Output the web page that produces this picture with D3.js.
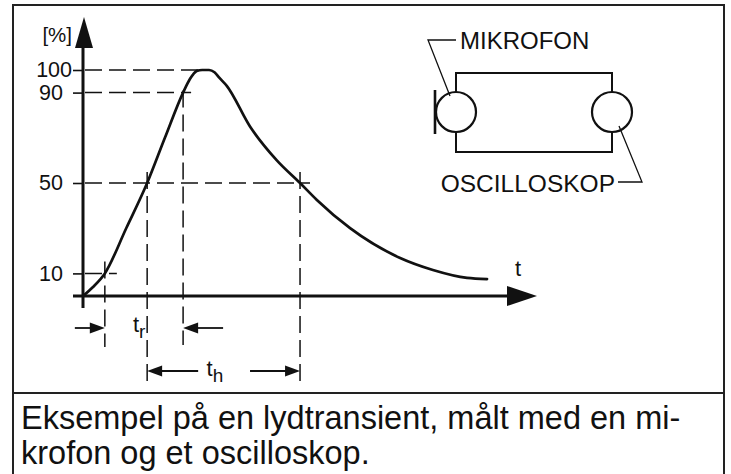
<!DOCTYPE html>
<html>
<head>
<meta charset="utf-8">
<script src="https://cdn.jsdelivr.net/npm/d3@7"></script>
<style>
  html, body { margin: 0; padding: 0; background: #fff; }
  svg { display: block; font-family: "Liberation Sans", Arial, Helvetica, sans-serif; }
</style>
</head>
<body>
<svg id="chart" width="731" height="474"></svg>
<script>
// Sound transient envelope: time (arbitrary units) and level in % of peak
const timeValues  = [0, 2.2, 4.8, 9.5, 14.1, 18.0, 22.0, 23.5, 24.3, 25.0, 26.2, 27.7, 28.9, 30.0, 31.6, 36.7, 42.6, 47.7, 51.4, 58.7, 69.7, 76.9, 84.4, 88.8];
const levelValues = [0, 4, 10, 30, 50, 70, 90, 96, 98.3, 99.6, 100, 100, 99, 96.5, 93, 75, 60, 50, 42.5, 30, 16.8, 11.5, 8, 7.5];

// Level axis ticks
const levelTicks = [10, 50, 90, 100];
const tickLabels = ["10", "50", "90", "100"];

// Times where the envelope crosses the reference levels
const crossLevels = [10, 50, 90, 100, 50];
const crossTimes  = [4.8, 14.1, 22.0, 26.2, 47.7];
const [tRise10, tRise50, tRise90, tPeak, tDecay50] = crossTimes;

const caption = ["Eksempel på en lydtransient, målt med en mi-", "krofon og et oscilloskop."];

const ink = "#111";
const svg = d3.select("#chart");

const x = d3.scaleLinear().domain([0, 100]).range([83, 538]);
const y = d3.scaleLinear().domain([0, 100]).range([296, 70]);

// Outer frame and caption divider
svg.append("rect")
  .attr("x", 13).attr("y", 5).attr("width", 711).attr("height", 490)
  .attr("fill", "none").attr("stroke", "#222").attr("stroke-width", 2);
svg.append("line")
  .attr("x1", 13).attr("x2", 724).attr("y1", 393).attr("y2", 393)
  .attr("stroke", "#222").attr("stroke-width", 2);

const plot = svg.append("g");

// Filled arrow head with its tip at (tx, ty)
function arrowHead(g, tx, ty, dir, len, half) {
  let pts;
  if (dir === "right") pts = [[tx, ty], [tx - len, ty - half], [tx - len, ty + half]];
  if (dir === "left")  pts = [[tx, ty], [tx + len, ty - half], [tx + len, ty + half]];
  if (dir === "up")    pts = [[tx, ty], [tx - half, ty + len], [tx + half, ty + len]];
  g.append("path").attr("d", "M" + pts.join("L") + "Z").attr("fill", ink);
}

// Dashed guide lines
const guides = plot.append("g").attr("stroke", ink).attr("stroke-width", 1.5)
  .attr("stroke-dasharray", "17,7").attr("fill", "none");

const hGuides = [
  { level: 100, t: tPeak,    ext: -2 },
  { level: 90,  t: tRise90,  ext: 8 },
  { level: 50,  t: tDecay50, ext: 10 },
  { level: 10,  t: tRise10,  ext: 12 }
];
guides.selectAll("line.h").data(hGuides).join("line").attr("class", "h")
  .attr("x1", x(0) + 2).attr("x2", d => x(d.t) + d.ext)
  .attr("y1", d => y(d.level)).attr("y2", d => y(d.level));

const vGuides = [
  { t: tRise10,  level: 10, above: 12, bottom: 347 },
  { t: tRise50,  level: 50, above: 11, bottom: 386 },
  { t: tRise90,  level: 90, above: 2,  bottom: 345 },
  { t: tDecay50, level: 50, above: 11, bottom: 382 }
];
guides.selectAll("line.v").data(vGuides).join("line").attr("class", "v")
  .attr("x1", d => x(d.t)).attr("x2", d => x(d.t))
  .attr("y1", d => y(d.level) - d.above).attr("y2", d => d.bottom);

// Level axis ticks and labels
const yAxis = d3.axisLeft(y)
  .tickValues(levelTicks)
  .tickFormat(d => tickLabels[levelTicks.indexOf(d)])
  .tickSize(10).tickPadding(10);
const gy = plot.append("g").attr("transform", `translate(${x(0)},0)`).call(yAxis);
gy.select(".domain").remove();
gy.selectAll(".tick line").attr("stroke", ink).attr("stroke-width", 1.6);
gy.selectAll(".tick text").attr("fill", ink).attr("font-size", 21.5)
  .attr("font-family", "'Liberation Sans', Arial, sans-serif");
gy.selectAll(".tick text").filter(d => d === 100).attr("x", -11);

// Axes with arrows
plot.append("line").attr("x1", x(0)).attr("x2", x(0)).attr("y1", y(0) + 12).attr("y2", 40)
  .attr("stroke", ink).attr("stroke-width", 3);
arrowHead(plot, x(0) + 1, 17, "up", 31, 9);
plot.append("line").attr("x1", x(0) - 10).attr("x2", 512).attr("y1", y(0)).attr("y2", y(0))
  .attr("stroke", ink).attr("stroke-width", 3);
arrowHead(plot, 537, y(0), "right", 30, 10);

plot.append("text").attr("x", 72).attr("y", 42).attr("text-anchor", "end")
  .attr("font-size", 20.5).attr("fill", ink).text("[%]");
plot.append("text").attr("x", 515).attr("y", 276)
  .attr("font-size", 22).attr("fill", ink).text("t");

// Envelope curve
const pts = timeValues.map((t, i) => [t, levelValues[i]]);
plot.append("path")
  .attr("d", d3.line().x(d => x(d[0])).y(d => y(d[1])).curve(d3.curveMonotoneX)(pts))
  .attr("fill", "none").attr("stroke", ink).attr("stroke-width", 2.7)
  .attr("stroke-linejoin", "round").attr("stroke-linecap", "round");

// Rise time dimension (t_r)
const trRow = 328;
const dims = plot.append("g").attr("stroke", ink).attr("stroke-width", 1.8);
dims.append("line").attr("x1", x(tRise10) - 30).attr("x2", x(tRise10) - 10).attr("y1", trRow).attr("y2", trRow);
arrowHead(plot, x(tRise10), trRow, "right", 15, 5.5);
dims.append("line").attr("x1", x(tRise90) + 10).attr("x2", x(tRise90) + 40).attr("y1", trRow).attr("y2", trRow);
arrowHead(plot, x(tRise90), trRow, "left", 15, 5.5);

const trLabel = plot.append("text").attr("x", (x(tRise10) + x(tRise90)) / 2 - 11).attr("y", 332)
  .attr("font-size", 22).attr("fill", ink);
trLabel.append("tspan").text("t");
trLabel.append("tspan").attr("font-size", 19).attr("dy", 6).text("r");

// Half-level duration dimension (t_h)
const thRow = 371;
dims.append("line").attr("x1", x(tRise50) + 10).attr("x2", x(tRise50) + 51).attr("y1", thRow).attr("y2", thRow);
arrowHead(plot, x(tRise50), thRow, "left", 15, 5.5);
dims.append("line").attr("x1", x(tDecay50) - 50).attr("x2", x(tDecay50) - 10).attr("y1", thRow).attr("y2", thRow);
arrowHead(plot, x(tDecay50), thRow, "right", 15, 5.5);

const thLabel = plot.append("text").attr("x", (x(tRise50) + x(tDecay50)) / 2 - 17).attr("y", 376)
  .attr("font-size", 22).attr("fill", ink);
thLabel.append("tspan").text("t");
thLabel.append("tspan").attr("font-size", 19).attr("dy", 6).text("h");

// Measurement setup: microphone wired to an oscilloscope
const setup = svg.append("g").attr("stroke", ink).attr("fill", "none");
setup.append("path").attr("d", "M456,92V73H612V92M456,132V152H612V132").attr("stroke-width", 2);
setup.append("circle").attr("cx", 456).attr("cy", 112).attr("r", 20).attr("stroke-width", 2.2);
setup.append("circle").attr("cx", 612).attr("cy", 112).attr("r", 20).attr("stroke-width", 2.2);
setup.append("line").attr("x1", 435).attr("x2", 435).attr("y1", 90).attr("y2", 134).attr("stroke-width", 2.6);
setup.append("path").attr("d", "M456,40H428L450,96").attr("stroke-width", 1.3);
setup.append("path").attr("d", "M619,126L642,182H618").attr("stroke-width", 1.3);

svg.append("text").attr("x", 460).attr("y", 49).attr("font-size", 24).attr("fill", ink).text("MIKROFON");
svg.append("text").attr("x", 615).attr("y", 192).attr("text-anchor", "end")
  .attr("font-size", 24.5).attr("fill", ink).text("OSCILLOSKOP");

// Caption
svg.selectAll("text.caption").data(caption).join("text").attr("class", "caption")
  .attr("x", 21).attr("y", (d, i) => 429 + i * 35)
  .attr("font-size", 32.5).attr("fill", ink).text(d => d);
</script>
</body>
</html>
